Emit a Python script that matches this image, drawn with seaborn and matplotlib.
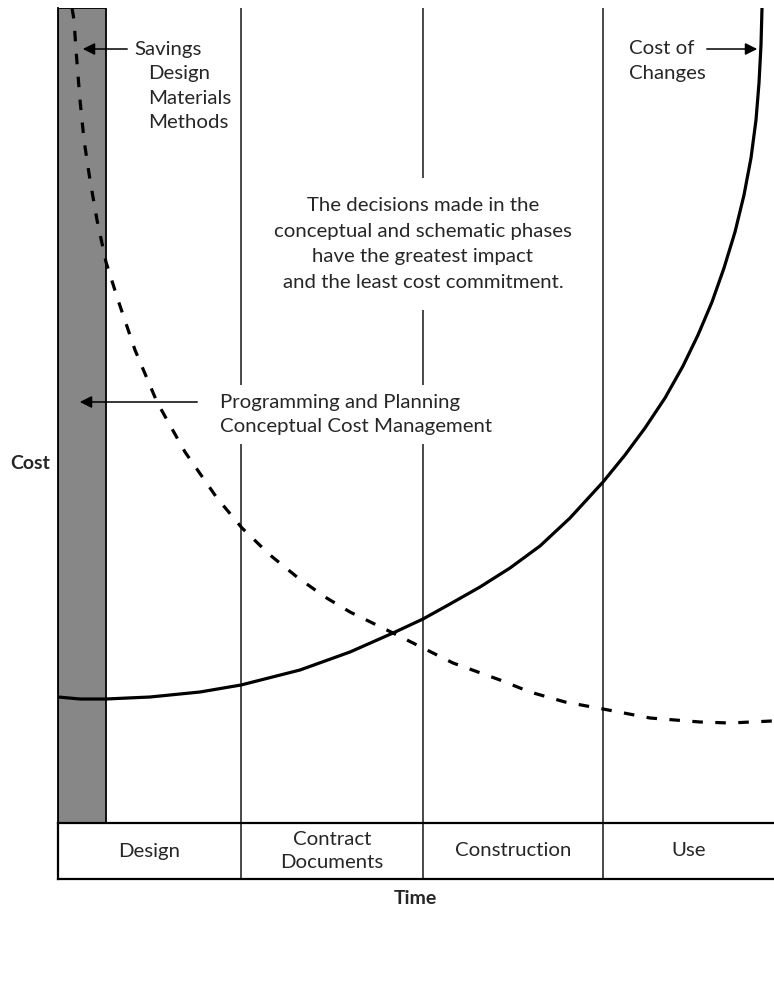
import matplotlib
matplotlib.use("Agg")
import matplotlib.pyplot as plt
import seaborn as sns
import pandas as pd

# Cost of changes curve (arbitrary time / cost units)
change_time = [0, 22, 48, 92, 142, 183, 242, 292, 335, 365, 392, 422, 452, 482, 512,
               545, 567, 587, 607, 625, 640, 654, 666, 677, 686, 693, 698, 701, 703, 704]
change_cost = [126, 124, 124, 126, 131, 138, 153, 171, 190, 204, 219, 236, 255, 277, 305,
               341, 368, 395, 425, 457, 488, 521, 555, 591, 628, 665, 703, 740, 778, 815]

# Savings curve (dashed)
savings_time = [14, 16, 18, 22, 26, 32, 39, 48, 60, 77, 99, 127, 159, 184, 212, 239,
                267, 292, 335, 365, 395, 442, 472, 507, 545, 592, 642, 672, 714]
savings_cost = [815, 803, 773, 723, 683, 643, 603, 561, 523, 473, 421, 371, 325, 295,
                268, 246, 226, 211, 190, 175, 160, 143, 131, 121, 114, 105, 101, 100, 102]

phase_names = ["Design", "Contract\nDocuments", "Construction", "Use"]
phase_edges = [0, 183, 365, 545, 716]
planning_end = 48
savings_items = ["Design", "Materials", "Methods"]

X_MAX, Y_MAX = 716, 815

sns.set_theme(style="white")
plt.rcParams["font.family"] = ["Lato", "DejaVu Sans"]

fig = plt.figure(figsize=(7.74, 9.91), dpi=100)
ax = fig.add_axes([58 / 774, 1 - 823 / 991, 716 / 774, 815 / 991])
band = fig.add_axes([58 / 774, 1 - 879 / 991, 716 / 774, 56 / 991])

# planning / programming bar
ax.axvspan(0, planning_end, color="#878787", ec="black", lw=1.3, zorder=1)

# phase dividers
for edge in phase_edges[1:-1]:
    ax.axvline(edge, color="#3a3a3a", lw=1.3, zorder=2)
    band.axvline(edge, color="#3a3a3a", lw=1.3)

df_change = pd.DataFrame({"time": change_time, "cost": change_cost})
df_save = pd.DataFrame({"time": savings_time, "cost": savings_cost})

sns.lineplot(data=df_change, x="time", y="cost", ax=ax, color="black", lw=2.3,
             sort=False, estimator=None, zorder=5)
sns.lineplot(data=df_save, x="time", y="cost", ax=ax, color="black", lw=2.3,
             sort=False, estimator=None, zorder=5)
ax.lines[-1].set_dashes((3.3, 3.9))

ax.set_xlim(0, X_MAX)
ax.set_ylim(0, Y_MAX)
ax.set_xticks([])
ax.set_yticks([])
ax.set_xlabel("")
ax.set_ylabel("")
for side in ["top", "right", "bottom"]:
    ax.spines[side].set_visible(False)
ax.spines["left"].set_color("black")
ax.spines["left"].set_linewidth(1.3)

fs = 14.7
arrow = dict(arrowstyle="-|>", color="black", lw=1.1, mutation_scale=18)

# Savings annotation
ax.annotate("", xy=(22, 774), xytext=(72, 774), arrowprops=arrow, zorder=6)
ax.text(76, 774, "Savings", fontsize=fs, va="center", ha="left")
for i, item in enumerate(savings_items):
    ax.text(90, 749 - 24.5 * i, item, fontsize=fs, va="center", ha="left")

# Cost of changes annotation
ax.text(571, 774, "Cost of", fontsize=fs, va="center", ha="left")
ax.text(571, 750, "Changes", fontsize=fs, va="center", ha="left")
ax.annotate("", xy=(702, 774), xytext=(646, 774), arrowprops=arrow, zorder=6)

# central statement
ax.text(365, 579,
        "The decisions made in the\nconceptual and schematic phases\n"
        "have the greatest impact\nand the least cost commitment.",
        fontsize=fs, ha="center", va="center", linespacing=1.6, zorder=4,
        bbox=dict(boxstyle="square,pad=0.95", fc="white", ec="none"))

# programming annotation
ax.annotate("", xy=(19, 421), xytext=(142, 421), arrowprops=arrow, zorder=6)
ax.text(162, 408.5, "Programming and Planning\nConceptual Cost Management",
        fontsize=fs, ha="left", va="center", linespacing=1.55, zorder=4,
        bbox=dict(boxstyle="square,pad=0.4", fc="white", ec="none"))

# phase band
band.set_xlim(0, X_MAX)
band.set_ylim(0, 1)
band.set_xticks([])
band.set_yticks([])
for side in ["top", "bottom", "left"]:
    band.spines[side].set_color("black")
    band.spines[side].set_linewidth(1.6)
band.spines["right"].set_visible(False)
for name, lo, hi in zip(phase_names, phase_edges[:-1], phase_edges[1:]):
    band.text((lo + hi) / 2, 0.5, name, fontsize=fs, ha="center", va="center",
              linespacing=1.4)

fig.text(30 / 774, 1 - 463 / 991, "Cost", fontsize=14, fontweight="bold",
         ha="center", va="center")
fig.text(415 / 774, 1 - 898 / 991, "Time", fontsize=14, fontweight="bold",
         ha="center", va="center")

fig.savefig("out.png", dpi=100)
